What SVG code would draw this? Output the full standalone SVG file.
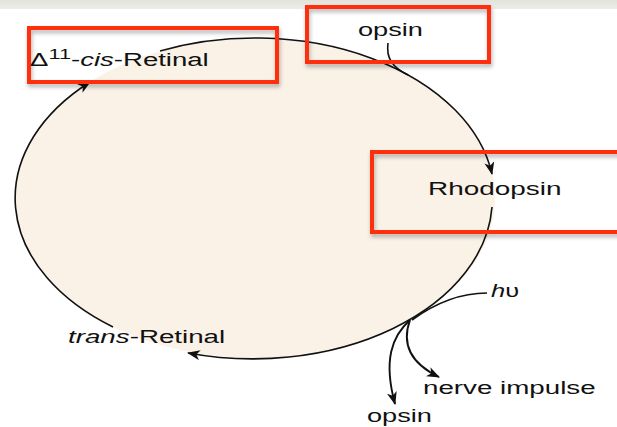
<svg xmlns="http://www.w3.org/2000/svg" width="617" height="427" viewBox="0 0 617 427">
  <style>
    .lbl { font-family: "Liberation Sans", Arial, sans-serif; font-size: 19px; fill: #111; }
    .cyc { fill: none; stroke: #111; stroke-width: 1.6; }
    .br { fill: none; stroke: #111; stroke-width: 1.9; }
    .hl { fill: none; stroke: #ff2d0a; stroke-width: 4; filter: url(#sh); }
  </style>
  <defs>
    <linearGradient id="band" x1="0" y1="0" x2="0" y2="1">
      <stop offset="0" stop-color="#e3e3dc"/>
      <stop offset="1" stop-color="#eeeee9"/>
    </linearGradient>
    <filter id="sh" x="-10%" y="-20%" width="125%" height="150%">
      <feDropShadow dx="1" dy="3" stdDeviation="2" flood-color="#000" flood-opacity="0.3"/>
    </filter>
    <marker id="ah" markerUnits="userSpaceOnUse" markerWidth="14" markerHeight="11" refX="12" refY="5" orient="auto">
      <path d="M0,0 L13,5 L0,10 L3.5,5 z" fill="#111"/>
    </marker>
  </defs>

  <rect x="0" y="0" width="617" height="427" fill="#ffffff"/>
  <rect x="0" y="0" width="617" height="9" fill="url(#band)"/>

  <ellipse cx="255" cy="198" rx="240" ry="160" fill="#faf2e7"/>

  <g id="connectors">
    <path class="cyc" d="M113,327 A240,160 0 0 1 90,82" marker-end="url(#ah)"/>
    <path class="cyc" d="M160,51 A240,160 0 0 1 492,174" marker-end="url(#ah)"/>
    <path class="cyc" d="M492,207 A240,160 0 0 1 188,353" marker-end="url(#ah)"/>
    <path class="cyc" d="M388,43 C386,58 392,67 408,75"/>
    <path class="cyc" d="M487,293 C458,293 434,304 412,320"/>
    <path class="br" d="M410,320 C392,336 383,360 395,404" marker-end="url(#ah)"/>
    <path class="br" d="M410,320 C402,342 408,362 439,377" marker-end="url(#ah)"/>
  </g>

  <g id="cis-retinal">
    <rect class="hl" x="29" y="28" width="248" height="54"/>
    <text class="lbl" transform="translate(30,66) scale(1.45,1)">Δ<tspan font-size="15" dy="-7">11</tspan><tspan dy="7">-</tspan><tspan font-style="italic">cis</tspan>-Retinal</text>
  </g>

  <g id="opsin-in">
    <rect class="hl" x="307" y="7" width="182" height="55"/>
    <text class="lbl" transform="translate(358,36) scale(1.43,1)">opsin</text>
  </g>

  <g id="rhodopsin">
    <rect class="hl" x="372" y="152" width="262" height="80"/>
    <text class="lbl" transform="translate(428,195) scale(1.47,1)">Rhodopsin</text>
  </g>

  <g id="light">
    <text class="lbl" transform="translate(491,297) scale(1.34,1)"><tspan font-style="italic">h</tspan>υ</text>
  </g>

  <g id="trans-retinal">
    <text class="lbl" transform="translate(68,343) scale(1.46,1)"><tspan font-style="italic">trans</tspan>-Retinal</text>
  </g>

  <g id="nerve-impulse">
    <text class="lbl" transform="translate(423,394) scale(1.46,1)">nerve impulse</text>
  </g>

  <g id="opsin-out">
    <text class="lbl" transform="translate(367,422) scale(1.43,1)">opsin</text>
  </g>
</svg>
